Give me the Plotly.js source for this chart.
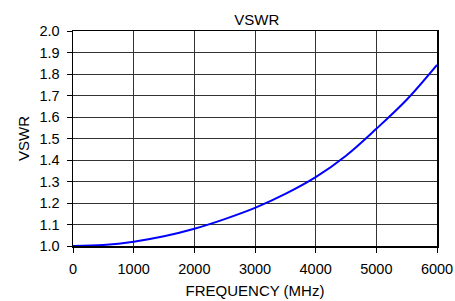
<!DOCTYPE html>
<html>
<head>
<meta charset="utf-8">
<script src="https://cdn.plot.ly/plotly-3.0.1.min.js"></script>
<style>html,body{margin:0;padding:0;background:#fff;}#chart{width:455px;height:301px;}</style>
</head>
<body>
<div id="chart"></div>
<script>
var frequencyMHz = [0, 500, 1000, 1500, 2000, 2500, 3000, 3500, 4000, 4500, 5000, 5500, 6000];
var vswr = [1.000, 1.005, 1.020, 1.045, 1.080, 1.125, 1.177, 1.242, 1.320, 1.420, 1.545, 1.680, 1.842];
var chartTitle = 'VSWR';
var xTitle = 'FREQUENCY (MHz)';
var yTitle = 'VSWR';

var fontFam = 'Liberation Sans, Arial, sans-serif';
var trace = {
  x: frequencyMHz, y: vswr, type: 'scatter', mode: 'lines',
  line: {color: '#0000ff', width: 2, shape: 'spline', smoothing: 1},
  hoverinfo: 'skip'
};
var axisCommon = {
  showline: true, mirror: true, linecolor: '#000', linewidth: 1.5,
  showgrid: true, gridcolor: '#333', gridwidth: 1,
  ticks: 'outside', ticklen: 5, tickcolor: '#000', tickwidth: 1,
  zeroline: false, tickfont: {family: fontFam, size: 14.5, color: '#000'}
};
var layout = {
  width: 455, height: 301,
  margin: {l: 73, r: 18, t: 31, b: 55},
  paper_bgcolor: '#fff', plot_bgcolor: '#fff',
  showlegend: false,
  title: {text: chartTitle, font: {family: fontFam, size: 15, color: '#000'}, xref: 'paper', x: 0.505, xanchor: 'center', yref: 'container', y: 0.935, yanchor: 'middle'},
  xaxis: Object.assign({}, axisCommon, {
    range: [0, 6000], dtick: 1000, tick0: 0, ticklabelstandoff: 4,
    title: {text: xTitle, font: {family: fontFam, size: 15, color: '#000'}, standoff: 9}
  }),
  yaxis: Object.assign({}, axisCommon, {
    range: [1, 2], dtick: 0.1, tick0: 1, tickformat: '.1f', ticklabelstandoff: 4,
    title: {text: yTitle, font: {family: fontFam, size: 15, color: '#000'}, standoff: 6}
  })
};
Plotly.newPlot('chart', [trace], layout, {staticPlot: true, displayModeBar: false});
</script>
</body>
</html>
